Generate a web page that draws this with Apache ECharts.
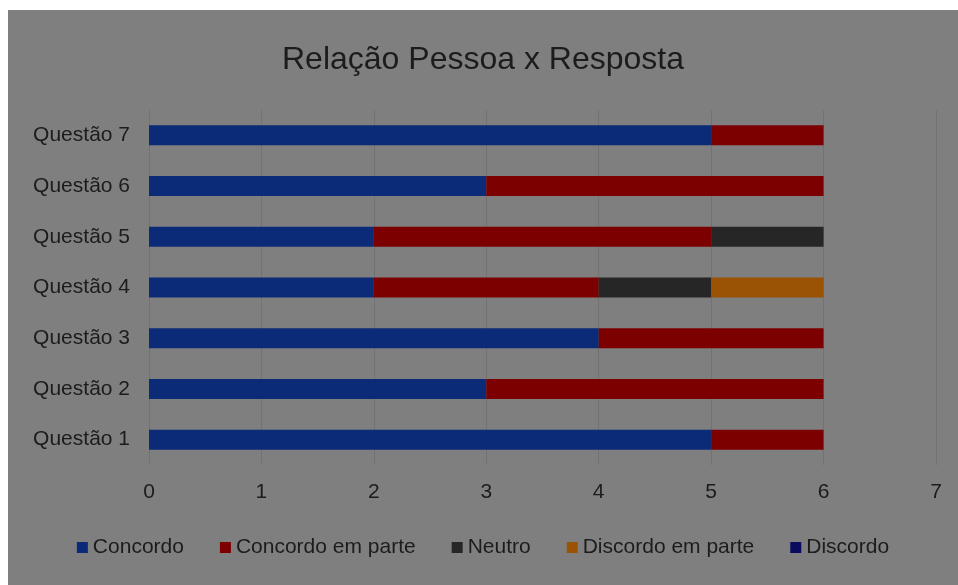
<!DOCTYPE html>
<html><head><meta charset="utf-8">
<script src="https://cdn.jsdelivr.net/npm/echarts@6/dist/echarts.min.js"></script>
<style>
html,body{margin:0;padding:0;background:#fff;width:958px;height:585px;overflow:hidden}
#c{position:absolute;left:8px;top:10px;width:950px;height:575px;background:#7f7f7f}
</style></head>
<body><div id="c"></div>
<script>
const categories = ['Questão 1','Questão 2','Questão 3','Questão 4','Questão 5','Questão 6','Questão 7'];
const seriesNames = ['Concordo','Concordo em parte','Neutro','Discordo em parte','Discordo'];
const concordo = [5,3,4,2,2,3,5];
const concordoParte = [1,3,2,2,3,3,1];
const neutro = [0,0,0,1,1,0,0];
const discordoParte = [0,0,0,1,0,0,0];
const discordo = [0,0,0,0,0,0,0];
const colors = ['#0b2a78','#7d0000','#262626','#9a5205','#0a0a5e'];
const values = [concordo, concordoParte, neutro, discordoParte, discordo];
const font = 'Liberation Sans';
const chart = echarts.init(document.getElementById('c'));
chart.setOption({
  animation:false,
  backgroundColor:'#7f7f7f',
  title:{text:'Relação Pessoa x Resposta',left:'center',top:29,
    textStyle:{fontFamily:font,fontSize:32,fontWeight:'normal',color:'#1c1c1c'}},
  grid:{left:141,right:22,top:100,bottom:120},
  legend:{bottom:22,left:'center',itemWidth:11,itemHeight:11,itemGap:36,icon:'rect',
    textStyle:{fontFamily:font,fontSize:21,color:'#1c1c1c'},data:seriesNames},
  xAxis:{type:'value',min:0,max:7,interval:1,
    axisLine:{show:false},axisTick:{show:false},
    axisLabel:{fontFamily:font,fontSize:21,color:'#1c1c1c',margin:17},
    splitLine:{show:true,lineStyle:{color:'#727272',width:1}}},
  yAxis:{type:'category',data:categories,
    axisLine:{show:false},axisTick:{show:false},
    axisLabel:{fontFamily:font,fontSize:21,color:'#1c1c1c',margin:19}},
  series: seriesNames.map((n,i)=>({name:n,type:'bar',stack:'t',barWidth:20,
    itemStyle:{color:colors[i]},data:values[i]}))
});
</script></body></html>
